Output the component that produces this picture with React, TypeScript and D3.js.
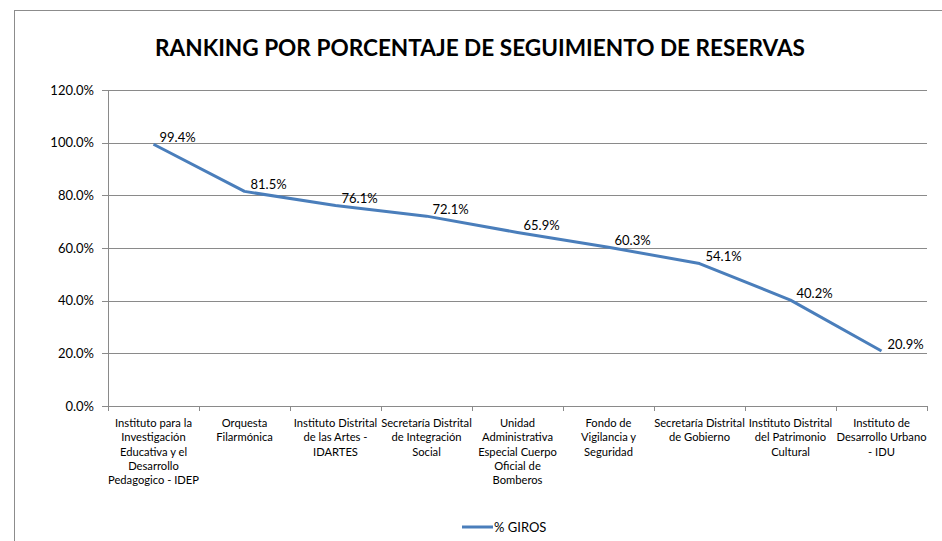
import * as d3 from 'd3';

// categories (wrapped like the original axis labels)
const categories: string[][] = [
  ['Instituto para la', 'Investigación', 'Educativa y el', 'Desarrollo', 'Pedagogico - IDEP'],
  ['Orquesta', 'Filarmónica'],
  ['Instituto Distrital', 'de las Artes -', 'IDARTES'],
  ['Secretaría Distrital', 'de Integración', 'Social'],
  ['Unidad', 'Administrativa', 'Especial Cuerpo', 'Oficial de', 'Bomberos'],
  ['Fondo de', 'Vigilancia y', 'Seguridad'],
  ['Secretaría Distrital', 'de Gobierno'],
  ['Instituto Distrital', 'del Patrimonio', 'Cultural'],
  ['Instituto de', 'Desarrollo Urbano', '- IDU'],
];
const giros = [0.994, 0.815, 0.761, 0.721, 0.659, 0.603, 0.541, 0.402, 0.209];
const yTicks = [0, 0.2, 0.4, 0.6, 0.8, 1.0, 1.2];

const W = 942;
const H = 541;
const margin = { left: 108, right: 15, top: 90, bottom: 135 };
const FONT = 'Lato, "Open Sans", sans-serif';
const LINE = '#4a7ebb';
const GRID = '#8a8a8a';

export default function App() {
  const x = d3.scaleBand<number>()
    .domain(d3.range(categories.length))
    .range([margin.left, W - margin.right]);
  const y = d3.scaleLinear().domain([0, 1.2]).range([H - margin.bottom, margin.top]);
  const fmt = d3.format('.1%');

  const line = d3.line<number>()
    .x((_, i) => x(i)! + x.bandwidth() / 2)
    .y(d => y(d));

  const x0 = margin.left;
  const x1 = W - margin.right;

  return (
    <svg width={W} height={H} style={{ position: 'absolute', left: 0, top: 0, fontFamily: FONT }}>
      <rect x={0} y={0} width={W} height={H} fill="#fff" />
      {/* chart border (only left and top visible in frame) */}
      <rect x={14.5} y={10.5} width={W + 20} height={H + 20} fill="none" stroke="#8c8c8c" />

      <text x={480} y={56} textAnchor="middle" fontSize={22.6} fontWeight="bold" fill="#000">
        RANKING POR PORCENTAJE DE SEGUIMIENTO DE RESERVAS
      </text>

      {/* gridlines + y ticks */}
      {yTicks.map(t => (
        <g key={t}>
          <line x1={x0 - 6} x2={x1} y1={Math.round(y(t)) + 0.5} y2={Math.round(y(t)) + 0.5} stroke={GRID} />
          <text x={x0 - 14} y={y(t)} dy="0.35em" textAnchor="end" fontSize={13} fill="#000">
            {fmt(t)}
          </text>
        </g>
      ))}
      {/* y axis */}
      <line x1={x0 + 0.5} x2={x0 + 0.5} y1={y(1.2)} y2={y(0) + 5} stroke={GRID} />

      {/* x ticks */}
      {d3.range(categories.length + 1).map(i => {
        const xx = i < categories.length ? x(i)! : x1;
        return <line key={i} x1={Math.round(xx) + 0.5} x2={Math.round(xx) + 0.5} y1={y(0)} y2={y(0) + 5} stroke={GRID} />;
      })}

      {/* category labels */}
      {categories.map((lines, i) => (
        <text key={i} x={x(i)! + x.bandwidth() / 2} y={y(0) + 21} textAnchor="middle" fontSize={11.2} fill="#000">
          {lines.map((l, j) => (
            <tspan key={j} x={x(i)! + x.bandwidth() / 2} dy={j === 0 ? 0 : 14.3}>{l}</tspan>
          ))}
        </text>
      ))}

      {/* series */}
      <path d={line(giros)!} fill="none" stroke={LINE} strokeWidth={3} strokeLinejoin="round" />

      {/* data labels */}
      {giros.map((v, i) => (
        <text key={i} x={x(i)! + x.bandwidth() / 2 + 6} y={y(v) - 7} dy="0.35em" fontSize={13} fill="#000">
          {fmt(v)}
        </text>
      ))}

      {/* legend */}
      <line x1={462} x2={493} y1={527} y2={527} stroke={LINE} strokeWidth={3} />
      <text x={494} y={527} dy="0.35em" fontSize={13} fill="#000">% GIROS</text>
    </svg>
  );
}
